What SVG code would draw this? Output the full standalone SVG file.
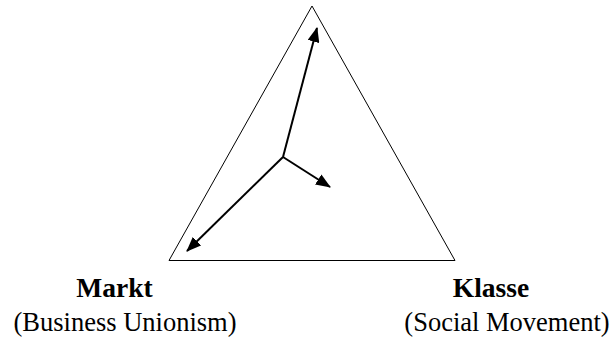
<svg xmlns="http://www.w3.org/2000/svg" width="612" height="340" viewBox="0 0 612 340">
  <style>
    .tri { fill: none; stroke: #000; stroke-width: 1; }
    .vec { fill: none; stroke: #000; stroke-width: 2; }
    .title { font-family: "Liberation Serif", "Times New Roman", serif; font-size: 27.5px; font-weight: bold; text-anchor: middle; fill: #000; }
    .sub { font-family: "Liberation Serif", "Times New Roman", serif; font-size: 26.5px; text-anchor: middle; fill: #000; }
  </style>
  <defs>
    <marker id="ah" viewBox="0 0 15 12" refX="14" refY="6" markerWidth="15" markerHeight="12" markerUnits="userSpaceOnUse" orient="auto">
      <path d="M0,0 L15,6 L0,12 Z" fill="#000"/>
    </marker>
  </defs>
  <g id="triangle">
    <polygon class="tri" points="312,6 169,260.5 455,260.5"/>
  </g>
  <g id="connectors">
    <line class="vec" x1="283" y1="157" x2="317" y2="28" marker-end="url(#ah)"/>
    <line class="vec" x1="283" y1="157" x2="330" y2="187" marker-end="url(#ah)"/>
    <line class="vec" x1="283" y1="157" x2="187" y2="251" marker-end="url(#ah)"/>
  </g>
  <g id="markt">
    <text class="title" x="114.5" y="297">Markt</text>
    <text class="sub" x="125" y="331">(Business Unionism)</text>
  </g>
  <g id="klasse">
    <text class="title" x="491" y="297">Klasse</text>
    <text class="sub" x="507" y="331">(Social Movement)</text>
  </g>
</svg>
